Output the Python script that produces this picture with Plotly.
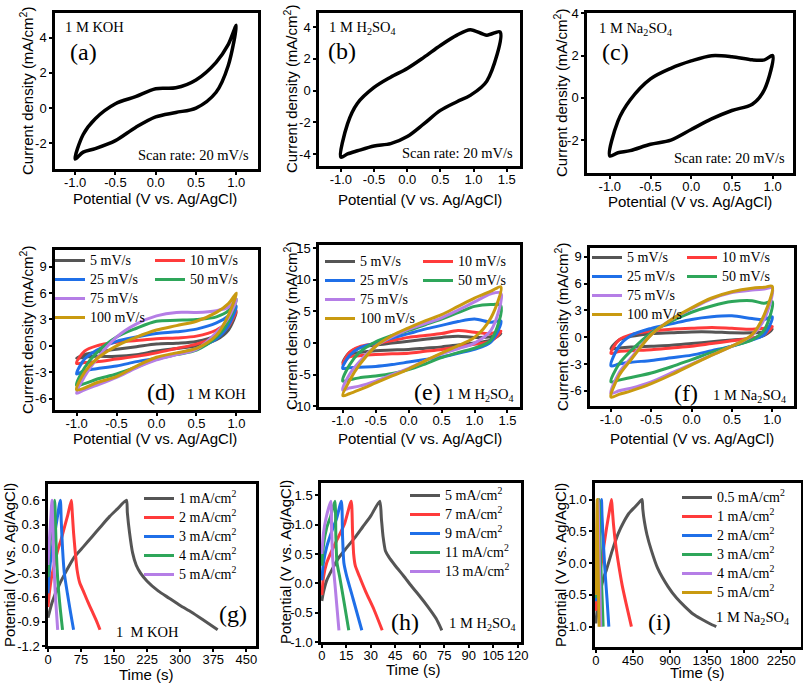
import plotly.graph_objects as go

W, H = 803, 685

# ---------------- data ----------------
# (a) 1 M KOH, 20 mV/s
E_a = [-1.0, -0.9, -0.75, -0.5, -0.25, 0.0, 0.25, 0.5, 0.75, 0.9, 1.0]
I_a_up = [-2.9, -1.5, -0.6, 0.25, 0.65, 1.1, 1.15, 1.6, 2.6, 3.6, 4.7]
I_a_dn = [-2.9, -2.5, -2.3, -1.85, -1.1, -0.5, -0.25, 0.0, 0.9, 2.4, 4.7]

# (b) 1 M H2SO4, 20 mV/s
E_b = [-1.0, -0.9, -0.75, -0.5, -0.25, 0.0, 0.25, 0.5, 0.75, 0.95, 1.2, 1.4]
I_b_up = [-4.2, -2.1, -0.8, 0.2, 0.85, 1.4, 2.1, 2.85, 3.5, 3.85, 3.5, 3.7]
I_b_dn = [-4.2, -4.0, -3.8, -3.5, -3.35, -2.9, -2.1, -1.25, -0.7, -0.3, 0.6, 3.7]

# (c) 1 M Na2SO4, 20 mV/s
E_c = [-1.0, -0.9, -0.75, -0.5, -0.25, 0.0, 0.25, 0.5, 0.75, 0.9, 1.0]
I_c_up = [-2.75, -1.1, -0.1, 0.9, 1.4, 1.75, 2.0, 1.95, 1.8, 1.8, 2.0]
I_c_dn = [-2.75, -2.6, -2.5, -2.2, -2.0, -1.5, -1.0, -0.6, -0.3, 0.4, 2.0]

rates = ["5 mV/s", "10 mV/s", "25 mV/s", "50 mV/s", "75 mV/s", "100 mV/s"]

# (d) 1 M KOH, scan rates
E_d = [-1.0, -0.9, -0.75, -0.5, -0.25, 0.0, 0.25, 0.5, 0.75, 0.9, 1.0]
d_up = [
    [-1.4, -1.0, -0.7, -0.4, -0.1, 0.2, 0.3, 0.5, 1.2, 2.3, 3.8],
    [-2.0, -0.6, 0.0, 0.4, 0.6, 0.8, 0.9, 1.1, 1.8, 2.8, 4.0],
    [-3.2, -1.5, -0.5, 0.5, 1.0, 1.4, 1.6, 1.9, 2.6, 3.4, 4.5],
    [-4.5, -2.5, -0.8, 1.0, 2.0, 2.8, 2.9, 3.0, 3.3, 4.0, 5.3],
    [-5.4, -3.5, -1.5, 1.0, 2.5, 3.4, 3.8, 3.8, 4.0, 4.4, 5.3],
    [-5.0, -3.0, -1.5, 0.0, 1.0, 1.8, 2.3, 2.8, 3.8, 4.8, 6.0],
]
d_dn = [
    [-1.4, -1.3, -1.2, -1.2, -1.0, -0.6, -0.3, 0.0, 0.7, 1.8, 3.8],
    [-2.0, -1.9, -1.8, -1.5, -1.2, -0.8, -0.3, 0.2, 1.0, 2.2, 4.0],
    [-3.2, -2.8, -2.6, -2.3, -1.8, -1.4, -0.9, -0.3, 0.8, 2.3, 4.5],
    [-4.5, -4.3, -3.8, -3.2, -2.4, -1.5, -1.0, -0.5, 1.0, 2.8, 5.3],
    [-5.4, -5.0, -4.5, -3.6, -2.5, -1.6, -1.0, -0.4, 1.5, 3.2, 5.3],
    [-5.0, -4.8, -4.2, -3.5, -2.3, -1.3, -0.8, -0.3, 1.2, 3.5, 6.0],
]

# (e) 1 M H2SO4, scan rates
E_e = [-1.0, -0.9, -0.75, -0.5, -0.25, 0.0, 0.25, 0.5, 0.75, 1.0, 1.25, 1.4]
e_up = [
    [-3.0, -1.5, -0.7, -0.3, 0.0, 0.3, 0.6, 0.9, 1.1, 0.9, 1.0, 1.5],
    [-3.3, -1.5, -0.6, -0.1, 0.4, 0.9, 1.2, 1.5, 2.0, 1.7, 1.5, 1.9],
    [-4.0, -2.0, -0.8, 0.0, 0.8, 1.5, 2.2, 2.8, 3.4, 3.8, 3.3, 3.5],
    [-6.0, -3.5, -1.5, 0.2, 1.2, 2.0, 2.9, 3.8, 4.8, 5.8, 6.1, 5.9],
    [-7.4, -5.0, -3.0, -0.5, 1.0, 2.2, 3.1, 4.0, 5.2, 6.5, 7.8, 7.9],
    [-8.3, -6.0, -3.5, -0.5, 1.2, 2.4, 3.5, 4.5, 5.8, 7.1, 8.2, 8.9],
]
e_dn = [
    [-3.0, -1.8, -1.5, -1.2, -1.1, -1.0, -0.8, -0.6, -0.3, 0.0, 0.5, 1.5],
    [-3.3, -2.2, -2.0, -1.8, -1.7, -1.6, -1.3, -1.0, -0.6, -0.2, 0.3, 1.9],
    [-4.0, -3.9, -3.8, -3.7, -3.4, -3.0, -2.6, -2.2, -1.6, -1.0, 0.2, 3.5],
    [-6.0, -5.8, -5.5, -5.2, -4.8, -4.2, -3.3, -2.3, -1.5, -0.8, 0.5, 5.9],
    [-7.4, -7.1, -6.8, -6.0, -5.0, -4.0, -2.8, -1.7, -0.9, 0.0, 2.0, 7.9],
    [-8.3, -8.0, -7.4, -6.3, -5.2, -4.1, -2.8, -1.6, -0.4, 0.9, 4.0, 8.9],
]

# (f) 1 M Na2SO4, scan rates
E_f = [-1.0, -0.9, -0.75, -0.5, -0.25, 0.0, 0.25, 0.5, 0.75, 0.9, 1.0]
f_up = [
    [-1.3, -0.3, 0.1, 0.4, 0.5, 0.6, 0.6, 0.5, 0.5, 0.6, 0.9],
    [-1.8, -0.3, 0.3, 0.7, 0.9, 1.0, 1.1, 1.0, 0.9, 1.0, 1.2],
    [-3.2, -1.0, 0.2, 1.0, 1.5, 2.0, 2.3, 2.4, 2.1, 2.0, 2.3],
    [-5.0, -3.0, -1.5, 0.5, 1.8, 2.8, 3.5, 4.0, 4.1, 3.8, 4.0],
    [-6.3, -4.0, -2.3, 0.3, 2.0, 3.2, 4.3, 5.0, 5.3, 5.4, 5.5],
    [-6.7, -4.3, -2.5, 0.3, 2.0, 3.3, 4.4, 5.1, 5.5, 5.6, 5.7],
]
f_dn = [
    [-1.3, -1.2, -1.1, -1.0, -0.9, -0.7, -0.5, -0.3, -0.1, 0.2, 0.9],
    [-1.8, -1.6, -1.5, -1.4, -1.2, -1.0, -0.7, -0.4, -0.1, 0.3, 1.2],
    [-3.2, -3.0, -2.8, -2.6, -2.3, -2.0, -1.5, -1.0, -0.3, 0.3, 2.3],
    [-5.0, -4.8, -4.5, -4.0, -3.3, -2.5, -1.7, -1.0, -0.3, 0.8, 4.0],
    [-6.3, -6.0, -5.7, -5.0, -4.0, -3.0, -2.0, -1.0, 0.2, 2.0, 5.5],
    [-6.7, -6.4, -6.0, -5.2, -4.2, -3.1, -2.0, -1.0, 0.3, 2.5, 5.7],
]

# (g) GCD 1 M KOH
g_names = ["1 mA/cm<sup>2</sup>", "2 mA/cm<sup>2</sup>", "3 mA/cm<sup>2</sup>",
           "4 mA/cm<sup>2</sup>", "5 mA/cm<sup>2</sup>"]
g_t = [
    [0, 10, 25, 43, 60, 81, 100, 119, 140, 157, 178, 180, 185, 192, 200, 210, 225, 250, 275, 300, 325, 350, 385],
    [0, 3, 8, 15, 22, 30, 38, 45, 53, 55, 58, 62, 66, 72, 80, 90, 100, 110, 118],
    [0, 3, 8, 14, 20, 28, 30, 33, 37, 44, 51, 58],
    [0, 3, 8, 15, 17, 19, 23, 28, 33],
    [0, 3, 6, 9, 11, 13, 17, 22],
]
g_v = [
    [-0.85, -0.65, -0.45, -0.26, -0.1, 0.03, 0.15, 0.27, 0.4, 0.49, 0.6, 0.45, 0.2, -0.05, -0.2, -0.3, -0.4, -0.52, -0.61, -0.7, -0.78, -0.87, -1.0],
    [-0.72, -0.55, -0.35, -0.18, -0.02, 0.12, 0.28, 0.42, 0.6, 0.45, 0.2, -0.05, -0.26, -0.42, -0.52, -0.65, -0.77, -0.89, -1.0],
    [-0.55, -0.3, -0.05, 0.15, 0.35, 0.6, 0.35, 0.0, -0.3, -0.55, -0.78, -1.0],
    [-0.35, -0.05, 0.25, 0.6, 0.3, -0.05, -0.45, -0.75, -1.0],
    [-0.2, 0.1, 0.35, 0.6, 0.25, -0.15, -0.6, -1.0],
]

# (h) GCD 1 M H2SO4
h_names = ["5 mA/cm<sup>2</sup>", "7 mA/cm<sup>2</sup>", "9 mA/cm<sup>2</sup>",
           "11 mA/cm<sup>2</sup>", "13 mA/cm<sup>2</sup>"]
h_t = [
    [0, 1, 3, 6, 10, 15, 20, 25, 30, 35.5, 36.5, 37.5, 39, 41, 45, 50, 55, 60, 65, 70, 73.5],
    [0, 1, 3, 6, 10, 14, 18, 18.8, 19.5, 20.5, 23, 27, 32, 37],
    [0, 1, 3, 6, 9, 12, 12.7, 13.5, 15, 19, 24.5],
    [0, 1, 3, 5.5, 8, 8.6, 9.3, 11, 13.5, 16.5],
    [0, 1, 2.5, 5.5, 6, 6.7, 8, 10.5],
]
h_v = [
    [-0.3, -0.15, 0.05, 0.22, 0.42, 0.6, 0.77, 0.96, 1.15, 1.4, 1.1, 0.8, 0.55, 0.45, 0.3, 0.13, -0.05, -0.22, -0.4, -0.6, -0.8],
    [-0.2, 0.1, 0.35, 0.55, 0.78, 1.02, 1.4, 0.9, 0.5, 0.3, 0.12, -0.15, -0.45, -0.8],
    [0.05, 0.35, 0.62, 0.88, 1.1, 1.4, 0.8, 0.35, 0.15, -0.25, -0.8],
    [0.3, 0.65, 0.95, 1.15, 1.4, 0.8, 0.35, 0.1, -0.3, -0.8],
    [0.5, 0.85, 1.1, 1.4, 0.9, 0.4, 0.0, -0.8],
]

# (i) GCD 1 M Na2SO4
i_names = ["0.5 mA/cm<sup>2</sup>", "1 mA/cm<sup>2</sup>", "2 mA/cm<sup>2</sup>",
           "3 mA/cm<sup>2</sup>", "4 mA/cm<sup>2</sup>", "5 mA/cm<sup>2</sup>"]
i_t = [
    [0, 20, 50, 90, 130, 200, 270, 340, 400, 472, 530, 561, 570, 590, 620, 674, 750, 876, 980, 1078, 1180, 1280, 1380, 1462],
    [0, 20, 50, 90, 130, 165, 190, 200, 215, 240, 280, 320, 370, 432],
    [0, 15, 35, 55, 69, 75, 90, 110, 135, 158],
    [0, 12, 25, 40, 46, 60, 75, 89],
    [0, 10, 28, 33, 45, 60],
    [0, 6, 16, 20, 28, 40],
]
i_v = [
    [-0.95, -0.7, -0.48, -0.25, -0.1, 0.2, 0.46, 0.65, 0.78, 0.88, 0.96, 1.0, 0.85, 0.65, 0.45, 0.2, -0.08, -0.37, -0.55, -0.68, -0.8, -0.88, -0.95, -1.0],
    [-0.75, -0.45, -0.15, 0.2, 0.55, 0.82, 1.0, 0.85, 0.6, 0.3, -0.05, -0.35, -0.65, -1.0],
    [-0.6, -0.2, 0.2, 0.65, 1.0, 0.75, 0.35, -0.1, -0.55, -1.0],
    [-0.55, -0.1, 0.4, 1.0, 0.6, 0.0, -0.5, -1.0],
    [-0.5, 0.0, 1.0, 0.6, -0.1, -1.0],
    [-0.5, 0.1, 1.0, 0.6, -0.1, -1.0],
]

# ---------------- tick labels ----------------
x_ticks_cv = [-1.0, -0.5, 0.0, 0.5, 1.0]
x_text_cv = ["-1.0", "-0.5", "0.0", "0.5", "1.0"]
x_ticks_cv2 = [-1.0, -0.5, 0.0, 0.5, 1.0, 1.5]
x_text_cv2 = ["-1.0", "-0.5", "0.0", "0.5", "1.0", "1.5"]
y_ticks_a = [-2, 0, 2, 4]
y_ticks_b = [-4, -2, 0, 2, 4]
y_ticks_c = [-2, 0, 2, 4]
y_ticks_d = [-6, -3, 0, 3, 6, 9]
y_ticks_e = [-10, -5, 0, 5, 10, 15]
y_ticks_f = [-6, -3, 0, 3, 6, 9]
x_ticks_g = [0, 75, 150, 225, 300, 375, 450]
y_ticks_g = [-1.2, -0.9, -0.6, -0.3, 0.0, 0.3, 0.6]
y_text_g = ["-1.2", "-0.9", "-0.6", "-0.3", "0.0", "0.3", "0.6"]
x_ticks_h = [0, 15, 30, 45, 60, 75, 90, 105, 120]
y_ticks_h = [-1.0, -0.5, 0.0, 0.5, 1.0, 1.5]
y_text_h = ["-1.0", "-0.5", "0.0", "0.5", "1.0", "1.5"]
x_ticks_i = [0, 450, 900, 1350, 1800, 2250]
y_ticks_i = [-1.0, -0.5, 0.0, 0.5, 1.0]
y_text_i = ["-1.0", "-0.5", "0.0", "0.5", "1.0"]

# ---------------- styling ----------------
colors = ["#555555", "#ff3b3b", "#1f6fe8", "#2ea65a", "#b57ee6", "#c99a10"]
SERIF = "Liberation Serif, Times New Roman, serif"
SANS = "Liberation Sans, Arial, sans-serif"

# panel frames in pixels: left, right, top, bottom
frames = {
    1: (55, 258, 13, 169), 2: (319, 520, 13, 166), 3: (587, 793, 13, 173),
    4: (55, 258, 250, 410), 5: (319, 520, 245, 407), 6: (590, 794, 248, 406),
    7: (48, 256, 484, 646), 8: (321, 521, 483, 642), 9: (595, 801, 483, 647),
}
xr = {1: [-1.25, 1.27], 2: [-1.33, 1.70], 3: [-1.28, 1.25],
      4: [-1.27, 1.27], 5: [-1.36, 1.69], 6: [-1.26, 1.27],
      7: [0, 472], 8: [-0.5, 122], 9: [-10, 2490]}
yr = {1: [-3.46, 5.4], 2: [-4.76, 4.9], 3: [-3.56, 4.02],
      4: [-7.3, 10.9], 5: [-10.1, 15.5], 6: [-7.7, 10.0],
      7: [-1.2, 0.8], 8: [-1.0, 1.71], 9: [-1.32, 1.26]}


def lab(v):
    return [str(t) for t in v]


xt = {1: (x_ticks_cv, x_text_cv), 2: (x_ticks_cv2, x_text_cv2), 3: (x_ticks_cv, x_text_cv),
      4: (x_ticks_cv, x_text_cv), 5: (x_ticks_cv2, x_text_cv2), 6: (x_ticks_cv, x_text_cv),
      7: (x_ticks_g, lab(x_ticks_g)), 8: (x_ticks_h, lab(x_ticks_h)), 9: (x_ticks_i, lab(x_ticks_i))}
yt = {1: (y_ticks_a, lab(y_ticks_a)), 2: (y_ticks_b, lab(y_ticks_b)), 3: (y_ticks_c, lab(y_ticks_c)),
      4: (y_ticks_d, lab(y_ticks_d)), 5: (y_ticks_e, lab(y_ticks_e)), 6: (y_ticks_f, lab(y_ticks_f)),
      7: (y_ticks_g, y_text_g), 8: (y_ticks_h, y_text_h), 9: (y_ticks_i, y_text_i)}


def ax(k):
    return "" if k == 1 else str(k)


def loop(E, up, dn):
    x = list(E) + list(E[::-1])[1:]
    y = list(up) + list(dn[::-1])[1:]
    return x, y


def lname(s):
    return "<span style='font-size:14px'>" + s + "</span>"


fig = go.Figure()

# single CV loops
for k, (E, up, dn) in zip([1, 2, 3], [(E_a, I_a_up, I_a_dn), (E_b, I_b_up, I_b_dn), (E_c, I_c_up, I_c_dn)]):
    x, y = loop(E, up, dn)
    fig.add_trace(go.Scatter(x=x, y=y, mode="lines", showlegend=False,
                             line=dict(color="black", width=3.5, shape="spline", smoothing=0.9),
                             xaxis="x" + ax(k), yaxis="y" + ax(k)))

# multi-rate CV loops
leg_ids = {4: ("legend", "legend2"), 5: ("legend3", "legend4"), 6: ("legend5", "legend6")}
for k, E, ups, dns in [(4, E_d, d_up, d_dn), (5, E_e, e_up, e_dn), (6, E_f, f_up, f_dn)]:
    for j in range(6):
        x, y = loop(E, ups[j], dns[j])
        lg = leg_ids[k][0] if j in (0, 2, 4, 5) else leg_ids[k][1]
        fig.add_trace(go.Scatter(x=x, y=y, mode="lines", name=lname(rates[j]), legend=lg,
                                 line=dict(color=colors[j], width=3, shape="spline", smoothing=0.9),
                                 xaxis="x" + ax(k), yaxis="y" + ax(k)))

# GCD
for k, names, ts, vs, lg in [(7, g_names, g_t, g_v, "legend7"), (8, h_names, h_t, h_v, "legend8"),
                             (9, i_names, i_t, i_v, "legend9")]:
    for j in range(len(names)):
        fig.add_trace(go.Scatter(x=ts[j], y=vs[j], mode="lines", name=lname(names[j]), legend=lg,
                                 line=dict(color=colors[j], width=3, shape="spline", smoothing=0.6),
                                 xaxis="x" + ax(k), yaxis="y" + ax(k)))

layout = dict(width=W, height=H, margin=dict(l=0, r=0, t=0, b=0, autoexpand=False),
              paper_bgcolor="white", plot_bgcolor="white")
for k in range(1, 10):
    l, r, t, b = frames[k]
    common = dict(showline=True, mirror=True, linewidth=2.5, linecolor="black",
                  ticks="outside", ticklen=3, tickwidth=1.5, tickcolor="black",
                  showgrid=False, zeroline=False, fixedrange=True, automargin=False,
                  tickfont=dict(family=SANS, size=13, color="black"))
    layout["xaxis" + ax(k)] = dict(common, domain=[l / W, r / W], anchor="y" + ax(k),
                                   range=xr[k], tickmode="array", tickvals=xt[k][0], ticktext=xt[k][1],
                                   ticklabelstandoff=-3)
    layout["yaxis" + ax(k)] = dict(common, domain=[1 - b / H, 1 - t / H], anchor="x" + ax(k),
                                   range=yr[k], tickmode="array", tickvals=yt[k][0], ticktext=yt[k][1])

# legends (pixel positions of top-left corner)
leg_pos = {"legend": (50, 246), "legend2": (150, 246),
           "legend3": (320, 247), "legend4": (418, 247),
           "legend5": (587, 243), "legend6": (682, 243),
           "legend7": (139, 484), "legend8": (405, 481), "legend9": (677, 483)}
for name, (px, py) in leg_pos.items():
    layout[name] = dict(x=px / W, y=1 - py / H, xanchor="left", yanchor="top",
                        bgcolor="rgba(0,0,0,0)", borderwidth=0, orientation="v",
                        font=dict(family=SERIF, size=11, color="black"))

fig.update_layout(**layout)


def txt(s, x, y, size, anchor="left", family=SERIF, angle=0):
    fig.add_annotation(text=s, x=x / W, y=1 - y / H, xref="paper", yref="paper",
                       xanchor=anchor, yanchor="middle", showarrow=False, textangle=angle,
                       font=dict(family=family, size=size, color="black"))


H2SO4 = "1 M H<sub>2</sub>SO<sub>4</sub>"
NA2SO4 = "1 M Na<sub>2</sub>SO<sub>4</sub>"
SCAN = "Scan rate: 20 mV/s"

# panel labels & electrolyte names
txt("1 M KOH", 63, 27, 14.5); txt("(a)", 68, 52, 24); txt(SCAN, 251, 155, 14.5, "right")
txt(H2SO4, 327, 28, 14.5); txt("(b)", 326, 51, 24); txt(SCAN, 515, 153, 14.5, "right")
txt(NA2SO4, 597, 29, 14.5); txt("(c)", 600, 52, 24); txt(SCAN, 787, 158, 14.5, "right")
txt("(d)", 145, 392, 24); txt("1 M KOH", 185, 394, 14.5)
txt("(e)", 412, 392, 24); txt(H2SO4, 445, 395, 14.5)
txt("(f)", 672, 393, 24); txt(NA2SO4, 711, 396, 14.5)
txt("(g)", 217, 614, 24); txt("1&nbsp;&nbsp;M KOH", 114, 632, 14.5)
txt("(h)", 389, 622, 24); txt(H2SO4, 447, 624, 14.5)
txt("(i)", 646, 622, 24); txt(NA2SO4, 714, 618, 14.5)

# axis titles
XT = "Potential (V vs. Ag/AgCl)"
YT = "Current density (mA/cm<sup>2</sup>)"
for cx, cy in [(155, 198), (420, 200), (690, 202), (155, 439), (420, 438), (692, 438)]:
    txt(XT, cx, cy, 15, "center", SANS)
for cx, cy in [(146, 674), (413, 669), (697, 672)]:
    txt("Time (s)", cx, cy, 15, "center", SANS)
for cx, cy in [(26, 91), (290, 89), (561, 93), (26, 330), (290, 326), (561, 327)]:
    txt(YT, cx, cy, 15, "center", SANS, -90)
for cx, cy in [(9, 565), (285, 562), (560, 565)]:
    txt(XT, cx, cy, 15, "center", SANS, -90)

fig.write_html("out.html", config={"displayModeBar": False},
               post_script="document.body.style.margin='0';document.body.style.overflow='hidden';")
